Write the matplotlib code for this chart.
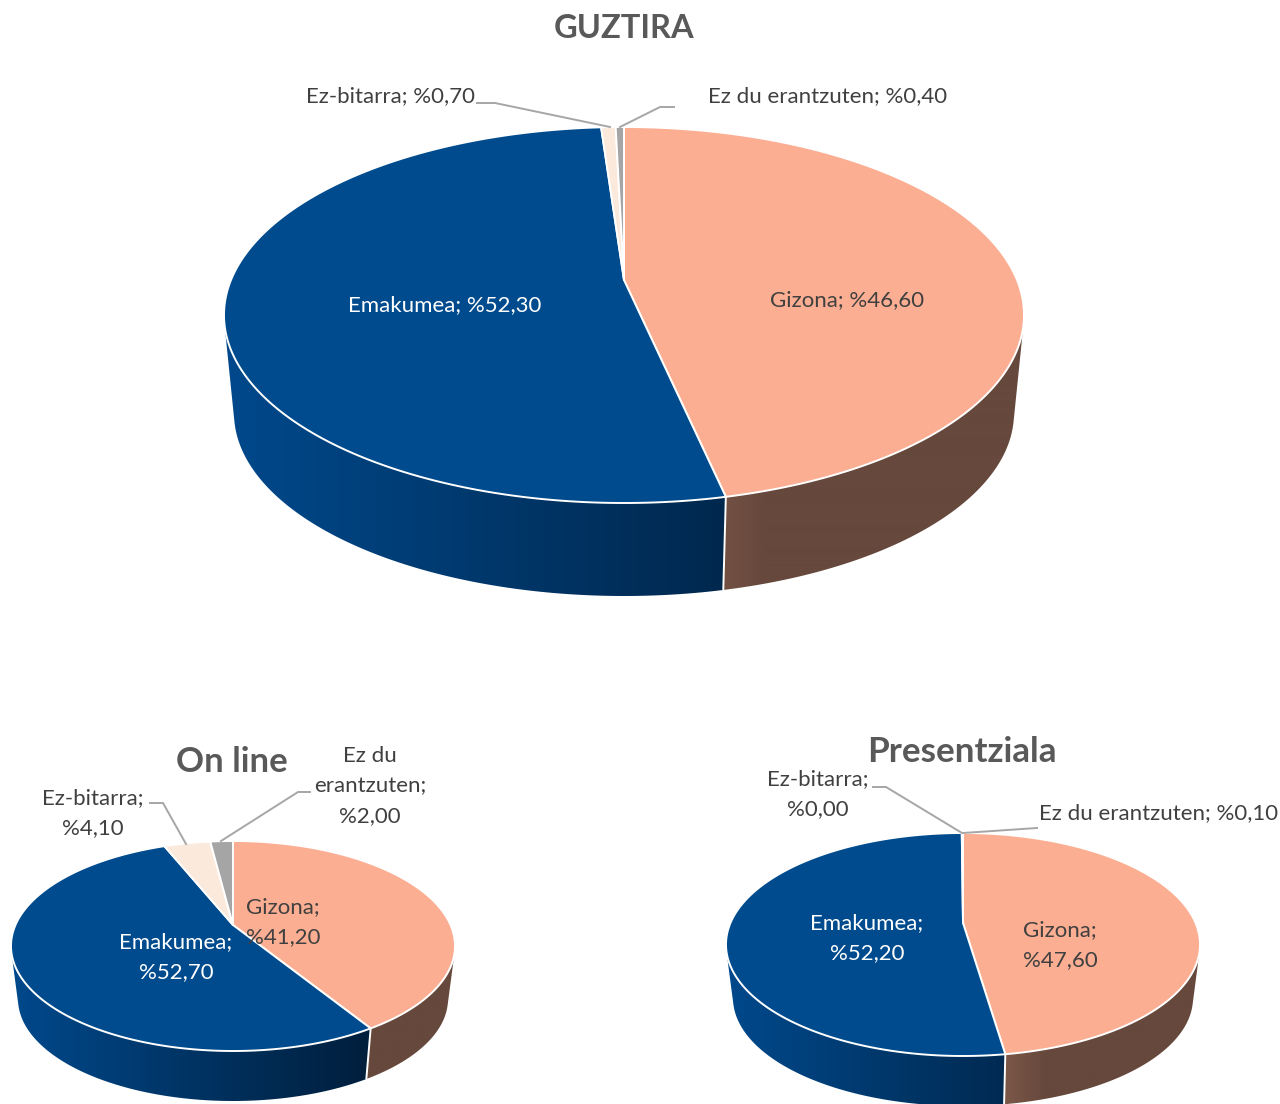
import numpy as np
import matplotlib
matplotlib.use("Agg")
import matplotlib.pyplot as plt
from matplotlib.colors import to_rgb
from matplotlib.patches import Polygon

# ---- data ----
categories = ["Gizona", "Emakumea", "Ez-bitarra", "Ez du erantzuten"]
guztira = [46.6, 52.3, 0.7, 0.4]
online = [41.2, 52.7, 4.1, 2.0]
presentziala = [47.6, 52.2, 0.0, 0.1]
titles = ["GUZTIRA", "On line", "Presentziala"]

top_colors = ["#FBAE92", "#004B8D", "#FBE9DC", "#A5A5A5"]
FONT = "Lato"
TXT = "#404040"

W, H = 1280, 1104
fig = plt.figure(figsize=(W / 100, H / 100), dpi=100)
ax = fig.add_axes([0, 0, 1, 1])


def lerp(c0, c1, t):
    t = np.clip(t, 0, 1)[..., None]
    return np.array(to_rgb(c0)) * (1 - t) + np.array(to_rgb(c1)) * t


def side_color(idx, u):
    if idx == 0:
        return lerp("#7F5A4A", "#66483C", (u - 0.15) / 0.2)
    if idx == 1:
        return lerp("#00498C", "#001F3D", (u + 1) / 1.6)
    if idx == 2:
        return lerp("#C9B8AC", "#A89A90", (u + 1) / 2)
    return lerp("#8A8A8A", "#6E6E6E", (u + 1) / 2)


def project(theta, v0):
    """Angle clockwise from 12 o'clock to tilted-disc coordinates."""
    x, y = np.sin(theta), np.cos(theta)
    den = 1 + v0 * y
    return x * np.sqrt(1 - v0 ** 2) / den, (y + v0) / den


def pie3d(values, cx, cy, rx, ry, lrx, lcy, lry, v0):
    vals = np.asarray(values, float)
    edges = np.concatenate([[0], np.cumsum(vals / vals.sum())]) * 2 * np.pi
    # rim of each slice: a horizontal gradient clipped to its front-facing band
    for i in range(len(vals)):
        if vals[i] == 0:
            continue
        th = np.linspace(edges[i], edges[i + 1], 800)
        u, v = project(th, v0)
        tx, ty = cx + rx * u, cy - ry * v
        bx, by = cx + lrx * u, lcy - lry * v
        cross = np.gradient(tx) * (by - ty) - np.gradient(ty) * (bx - tx)
        keep = cross < 0
        if keep.sum() < 2:
            continue
        band = np.vstack([np.column_stack([tx[keep], ty[keep]]),
                          np.column_stack([bx[keep][::-1], by[keep][::-1]])])
        grad_u = np.linspace(-1, 1, 800)
        rgb = side_color(i, grad_u)[None, :, :]
        im = ax.imshow(rgb, extent=(cx - rx, cx + rx, lcy + lry, cy - ry),
                       aspect="auto", interpolation="bilinear", zorder=2)
        im.set_clip_path(Polygon(band, closed=True, transform=ax.transData))
    # slice separators on the rim
    for e in edges[:-1]:
        u, v = project(e, v0)
        ax.plot([cx + rx * u, cx + lrx * u], [cy - ry * v, lcy - lry * v],
                color="white", lw=1.4, zorder=3, solid_capstyle="butt")
    # top face
    ax0, ay0 = cx, cy - ry * v0
    for i in range(len(vals)):
        if vals[i] == 0:
            continue
        th = np.linspace(edges[i], edges[i + 1], 400)
        u, v = project(th, v0)
        pts = np.vstack([[ax0, ay0], np.column_stack([cx + rx * u, cy - ry * v])])
        ax.add_patch(Polygon(pts, closed=True, facecolor=top_colors[i],
                             edgecolor="white", lw=1.4, joinstyle="round", zorder=4))


def label(x, y, s, color=TXT, size=16):
    ax.text(x, y, s, color=color, fontsize=size, family=FONT, ha="center",
            va="center", linespacing=1.65, zorder=6)


def leader(xs, ys):
    ax.plot(xs, ys, color="#A6A6A6", lw=1.4, zorder=5, solid_joinstyle="round")


# ---- pies ----
pie3d(guztira, 624, 315, 400, 188, 390, 413, 183, 0.186)
pie3d(online, 233, 946, 222, 105, 215, 999, 102, 0.2)
pie3d(presentziala, 963, 944.5, 237, 111.5, 230, 998, 108, 0.193)

# ---- titles ----
for (x, y), t, s in zip([(624, 29), (232, 762), (962, 752)], titles, [23.5, 25, 25.2]):
    ax.text(x, y, t, color="#595959", fontsize=s, family=FONT, weight="bold",
            ha="center", va="center", zorder=6)

# ---- labels: GUZTIRA ----
label(390, 96, f"{categories[2]}; %0,70")
label(828, 96, f"{categories[3]}; %0,40")
label(445, 305, f"{categories[1]}; %52,30", color="white")
label(847, 300, f"{categories[0]}; %46,60")
leader([477, 495, 610], [103, 103, 127])
leader([674, 660, 620], [107, 107, 127])

# ---- labels: On line ----
label(370, 786, "Ez du\nerantzuten;\n%2,00")
label(93, 813, "Ez-bitarra;\n%4,10")
label(283, 922, "Gizona;\n%41,20")
label(176, 957, "Emakumea;\n%52,70", color="white")
leader([150, 163, 186], [803, 803, 844])
leader([310, 298, 221], [792, 792, 841])

# ---- labels: Presentziala ----
label(818, 794, "Ez-bitarra;\n%0,00")
label(1159, 813, f"{categories[3]}; %0,10")
label(867, 938, "Emakumea;\n%52,20", color="white")
label(1060, 945, "Gizona;\n%47,60")
leader([873, 886, 962], [787, 787, 833])
leader([1037, 963], [828, 833])

ax.set_xlim(0, W)
ax.set_ylim(H, 0)
ax.axis("off")
fig.savefig("out.png", dpi=100, facecolor="white")
